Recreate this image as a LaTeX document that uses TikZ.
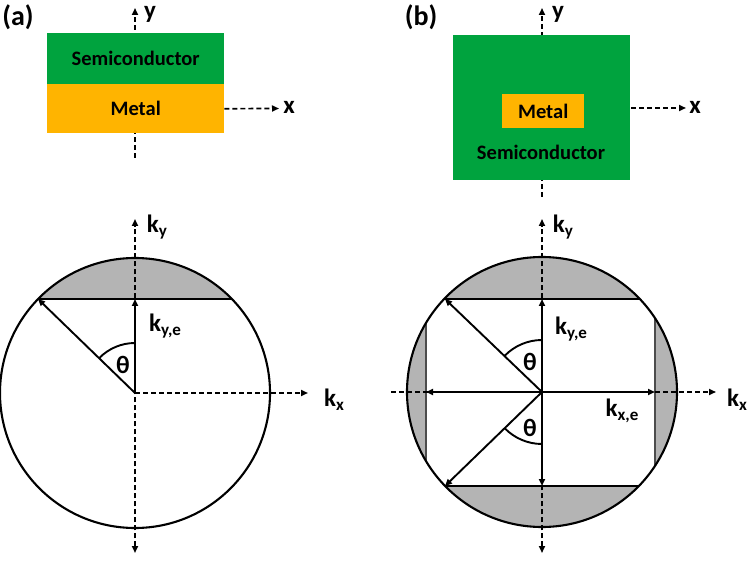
\documentclass[tikz,border=0pt]{standalone}
\usepackage{fontspec}
\setmainfont{Carlito}
\usetikzlibrary{arrows.meta}
\definecolor{semi}{RGB}{0,163,62}
\definecolor{metal}{RGB}{255,180,0}
\definecolor{greyfill}{RGB}{180,180,180}
\newcommand\kk[1]{k\raisebox{-0.35ex}{\fontsize{17}{17}\selectfont #1}}
\begin{document}
\begin{tikzpicture}[x=1pt,y=-1pt,
  lbl/.style={font=\fontsize{25}{27}\selectfont\bfseries, inner sep=0},
  plbl/.style={font=\fontsize{28}{30}\selectfont\bfseries, inner sep=0},
  mat/.style={font=\fontsize{20.5}{23}\selectfont\bfseries, inner sep=0},
  tipa/.tip={Triangle[length=7pt,width=6pt]},
  dsh/.style={dash pattern=on 5pt off 3pt, line width=1.7pt},
  sol/.style={line width=1.9pt},
  bnd/.style={line width=2.1pt}]
\useasboundingbox (0,0) rectangle (747,569);

% ---------- (a) top ----------
\node[plbl] (pa) at (18,17) {(a)};
\coordinate (ayT) at (135,8);
\coordinate (ayB) at (135,158);
\draw[dsh,-tipa] (ayB) -- (ayT);
\node[fill=semi, minimum width=177, minimum height=51, inner sep=0, anchor=north west, mat] (asc) at (47,33) {Semiconductor};
\node[fill=metal, minimum width=177, minimum height=49, inner sep=0, anchor=north west, mat] (amet) at (47,84) {Metal};
\coordinate (axE) at (279,108.5);
\draw[dsh,-tipa] (amet.east) -- (axE);
\node[lbl] (axl) at (289,107) {x};
\node[lbl] (ayl) at (150,14) {y};

% ---------- (b) top ----------
\node[plbl] (pb) at (421,17) {(b)};
\coordinate (byT) at (542,8);
\coordinate (byB) at (542,197);
\draw[dsh,-tipa] (byB) -- (byT);
\node[fill=semi, minimum width=177, minimum height=145, inner sep=0, anchor=north west] (bsc) at (453,35) {};
\node[fill=metal, minimum width=82, minimum height=34, inner sep=0, anchor=north west, mat] (bmet) at (502,94) {Metal};
\node[mat] (bsct) at (541,152) {Semiconductor};
\coordinate (bxS) at (631,108);
\coordinate (bxE) at (686,108);
\draw[dsh,-tipa] (bxS) -- (bxE);
\node[lbl] (bxl) at (695,107) {x};
\node[lbl] (byl) at (558,14) {y};

% ---------- (a) circle ----------
\coordinate (ca) at (135,393);
\begin{scope}
  \clip (ca) circle[radius=135];
  \fill[greyfill] (0,250) rectangle (300,299);
\end{scope}
\coordinate (aL) at (38,299);
\coordinate (aR) at (232,299);
\coordinate (aTop) at (135,299);
\draw[sol] (aL) -- (aR);
\draw[bnd] (ca) circle[radius=135];
\coordinate (akyT) at (135,219);
\coordinate (akyB) at (135,553);
\coordinate (akxE) at (308,393);
\draw[dsh,tipa-tipa] (akyB) -- (akyT);
\draw[dsh,-tipa] (ca) -- (akxE);
\draw[sol,-tipa] (ca) -- (aTop);
\draw[sol,-tipa] (ca) -- (aL);
\draw[sol] (135,343) arc[start angle=270, end angle=224.1, radius=50];
\node[lbl] (aky) at (157,227) {\kk{y}};
\node[lbl] (akye) at (165,326) {\kk{y,e}};
\node[lbl] (ath) at (123,365) {θ};
\node[lbl] (akx) at (334,400) {\kk{x}};

% ---------- (b) circle ----------
\coordinate (cb) at (542,392);
\begin{scope}
  \clip (cb) circle[radius=135];
  \fill[greyfill] (400,250) rectangle (690,540);
  \fill[white] (426,299) rectangle (655,486);
\end{scope}
\coordinate (bTL) at (445,299);
\coordinate (bTR) at (639,299);
\coordinate (bBL) at (445,486);
\coordinate (bBR) at (639,486);
\coordinate (bLT) at (426,323);
\coordinate (bLB) at (426,461);
\coordinate (bRT) at (655,318);
\coordinate (bRB) at (655,466);
\draw[sol] (bTL) -- (bTR);
\draw[sol] (bBL) -- (bBR);
\draw[line width=1.3pt, black!70] (bLT) -- (bLB);
\draw[line width=1.3pt, black!70] (bRT) -- (bRB);
\draw[bnd] (cb) circle[radius=135];
\coordinate (bkyT) at (542,219);
\coordinate (bkyB) at (542,553);
\coordinate (bkxL) at (391,392);
\coordinate (bkxR) at (716,392);
\draw[dsh,tipa-tipa] (bkyB) -- (bkyT);
\draw[dsh,-tipa] (bkxL) -- (bkxR);
\coordinate (bUp) at (542,299);
\coordinate (bDn) at (542,486);
\coordinate (bLf) at (426,392);
\coordinate (bRt) at (655,392);
\draw[sol,-tipa] (cb) -- (bUp);
\draw[sol,-tipa] (cb) -- (bDn);
\draw[sol,-tipa] (cb) -- (bLf);
\draw[sol,-tipa] (cb) -- (bRt);
\draw[sol,-tipa] (cb) -- (bTL);
\draw[sol,-tipa] (cb) -- (bBL);
\draw[sol] (542,340) arc[start angle=270, end angle=224.1, radius=52];
\draw[sol] (542,444) arc[start angle=90, end angle=135.9, radius=52];
\node[lbl] (bky) at (563,227) {\kk{y}};
\node[lbl] (bkye) at (571,329) {\kk{y,e}};
\node[lbl] (bth1) at (530,362) {θ};
\node[lbl] (bth2) at (530,428) {θ};
\node[lbl] (bkxe) at (622,411) {\kk{x,e}};
\node[lbl] (bkx) at (737,400) {\kk{x}};
\end{tikzpicture}
\end{document}
